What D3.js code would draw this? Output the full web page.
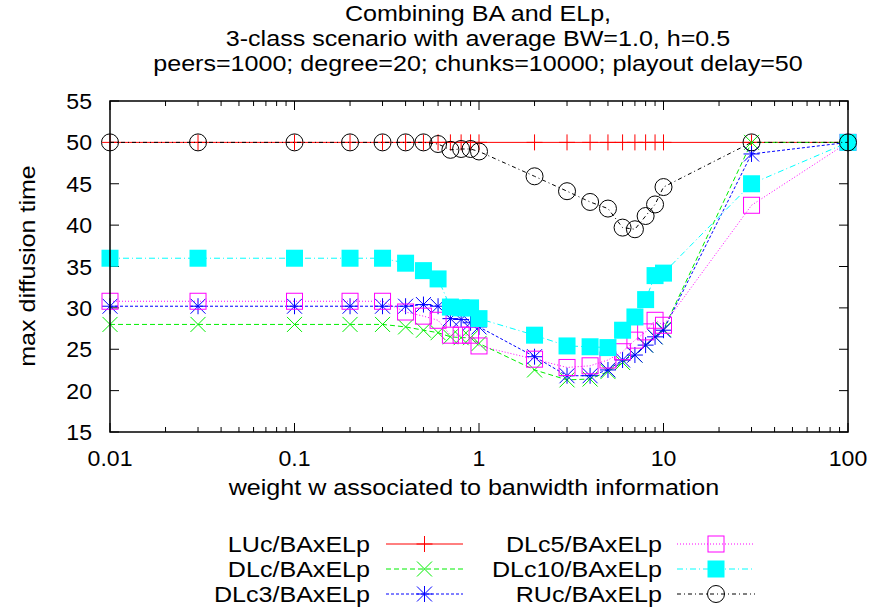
<!DOCTYPE html>
<html>
<head>
<meta charset="utf-8">
<script src="https://cdn.jsdelivr.net/npm/d3@7"></script>
<style>
  html, body { margin: 0; padding: 0; background: #fff; }
  svg text { font-family: "Liberation Sans", Arial, Helvetica, sans-serif; fill: #000; }
</style>
</head>
<body>
<svg id="chart" width="875" height="613"></svg>
<script>
// weight values on the x axis
const weights = [0.01, 0.03, 0.1, 0.2, 0.3, 0.4, 0.5, 0.6, 0.7, 0.8, 0.9, 1, 2, 3, 4, 5, 6, 7, 8, 9, 10, 30, 100];

// max diffusion time for each scheduling combination
const LUc   = [50, 50, 50, 50, 50, 50, 50, 50, 50, 50, 50, 50, 50, 50, 50, 50, 50, 50, 50, 50, 50, 50, 50];
const DLc   = [28.0, 28.0, 28.0, 28.0, 28.0, 27.7, 27.3, 27.0, 26.5, 26.4, 26.4, 25.7, 22.5, 21.3, 21.4, 22.3, 23.4, 24.3, 25.5, 26.5, 27.4, 50, 50];
const DLc3  = [30.2, 30.2, 30.2, 30.2, 30.2, 30.2, 30.4, 30.2, 28.7, 28.6, 28.2, 27.7, 24.1, 21.8, 21.8, 22.5, 23.7, 24.3, 25.5, 26.5, 27.3, 48.6, 50];
const DLc5  = [30.8, 30.8, 30.8, 30.8, 30.8, 29.5, 29.0, 28.5, 26.7, 26.7, 26.7, 25.4, 23.8, 22.8, 23.0, 23.7, 24.7, 26.1, 27.1, 28.5, 27.9, 42.4, 50];
const DLc10 = [36.0, 36.0, 36.0, 36.0, 36.0, 35.4, 34.5, 33.5, 30.1, 30.0, 30.0, 28.7, 26.7, 25.4, 25.3, 25.2, 27.3, 28.9, 31.0, 33.9, 34.2, 45.0, 50];
const RUc   = [50, 50, 50, 50, 50, 50, 50, 49.8, 49.1, 49.2, 49.2, 48.9, 45.9, 44.1, 42.8, 42.0, 39.7, 39.5, 41.1, 42.5, 44.6, 50, 50];

const xTicks = [0.01, 0.1, 1, 10, 100];
const yTicks = [15, 20, 25, 30, 35, 40, 45, 50, 55];

const titleLines = [
  "Combining BA and ELp,",
  "3-class scenario with average BW=1.0, h=0.5",
  "peers=1000; degree=20; chunks=10000; playout delay=50"
];

const series = [
  { name: "LUc/BAxELp",   values: LUc,   color: "#ff0000", dash: null,        marker: "plus"   },
  { name: "DLc/BAxELp",   values: DLc,   color: "#00ee00", dash: "5,3",       marker: "cross"  },
  { name: "DLc3/BAxELp",  values: DLc3,  color: "#0000ff", dash: "3,2",       marker: "star"   },
  { name: "DLc5/BAxELp",  values: DLc5,  color: "#ff00ff", dash: "1,2",       marker: "square" },
  { name: "DLc10/BAxELp", values: DLc10, color: "#00ffff", dash: "6,3,1,3",   marker: "fsquare"},
  { name: "RUc/BAxELp",   values: RUc,   color: "#000000", dash: "4,3,1,3",   marker: "circle" }
];

const svg = d3.select("#chart");
const L = 110, R = 848, T = 101, B = 432;
const FS = 22, SX = 1.14;

const x = d3.scaleLog().domain([0.01, 100]).range([L, R]);
const y = d3.scaleLinear().domain([15, 55]).range([B, T]);

// text helper: slightly widened sans face
function label(g, tx, ty, str, anchor, sx = SX, rot = 0) {
  return g.append("text")
    .attr("transform", `translate(${tx},${ty})` + (rot ? ` rotate(${rot})` : "") + ` scale(${sx},1)`)
    .attr("text-anchor", anchor).attr("font-size", FS).text(str);
}

// title
const titleG = svg.append("g");
titleLines.forEach((t, i) => label(titleG, 478, 21 + i * 25, t, "middle"));

// ticks (inward, mirrored on the opposite side)
const minorX = [];
for (let e = -2; e < 2; e++) for (let k = 2; k <= 9; k++) minorX.push(k * Math.pow(10, e));

const axes = svg.append("g").attr("stroke", "#000").attr("stroke-width", 1);
xTicks.forEach(v => {
  axes.append("line").attr("x1", x(v)).attr("x2", x(v)).attr("y1", B).attr("y2", B - 9);
  axes.append("line").attr("x1", x(v)).attr("x2", x(v)).attr("y1", T).attr("y2", T + 9);
});
minorX.forEach(v => {
  axes.append("line").attr("x1", x(v)).attr("x2", x(v)).attr("y1", B).attr("y2", B - 5);
  axes.append("line").attr("x1", x(v)).attr("x2", x(v)).attr("y1", T).attr("y2", T + 5);
});
yTicks.forEach(v => {
  axes.append("line").attr("x1", L).attr("x2", L + 9).attr("y1", y(v)).attr("y2", y(v));
  axes.append("line").attr("x1", R).attr("x2", R - 9).attr("y1", y(v)).attr("y2", y(v));
});

// tick labels
const tickG = svg.append("g");
xTicks.forEach(v => label(tickG, x(v), 466, d3.format("~g")(v), "middle", 1.05));
yTicks.forEach(v => label(tickG, 92, y(v) + 8, String(v), "end", 1.05));

// axis titles
label(svg, 474, 495, "weight w associated to banwidth information", "middle");
label(svg, 35, 266, "max diffusion time", "middle", SX, -90);

// marker drawing
function drawMarker(g, type, cx, cy, color) {
  const s = 8;
  if (type === "plus" || type === "star") {
    g.append("line").attr("x1", cx - s).attr("x2", cx + s).attr("y1", cy).attr("y2", cy).attr("stroke", color);
    g.append("line").attr("x1", cx).attr("x2", cx).attr("y1", cy - s).attr("y2", cy + s).attr("stroke", color);
  }
  if (type === "cross" || type === "star") {
    const c = 7.5;
    g.append("line").attr("x1", cx - c).attr("x2", cx + c).attr("y1", cy - c).attr("y2", cy + c).attr("stroke", color);
    g.append("line").attr("x1", cx - c).attr("x2", cx + c).attr("y1", cy + c).attr("y2", cy - c).attr("stroke", color);
  }
  if (type === "square") {
    g.append("rect").attr("x", cx - 8).attr("y", cy - 8).attr("width", 16).attr("height", 16)
      .attr("fill", "none").attr("stroke", color);
  }
  if (type === "fsquare") {
    g.append("rect").attr("x", cx - 8.5).attr("y", cy - 8.5).attr("width", 17).attr("height", 17)
      .attr("fill", color);
  }
  if (type === "circle") {
    g.append("circle").attr("cx", cx).attr("cy", cy).attr("r", 8.5)
      .attr("fill", "none").attr("stroke", color);
  }
}

const line = d3.line().x(d => x(d[0])).y(d => y(d[1]));
const plot = svg.append("g");
series.forEach(s => {
  const pts = weights.map((w, i) => [w, s.values[i]]);
  const g = plot.append("g");
  g.append("path").attr("d", line(pts)).attr("fill", "none")
    .attr("stroke", s.color).attr("stroke-width", 1)
    .attr("stroke-dasharray", s.dash);
  pts.forEach(p => drawMarker(g, s.marker, x(p[0]), y(p[1]), s.color));
});

// frame
svg.append("rect").attr("x", L).attr("y", T).attr("width", R - L).attr("height", B - T)
  .attr("fill", "none").attr("stroke", "#000").attr("stroke-width", 1.5);

// legend: two columns of three entries
const legend = svg.append("g");
series.forEach((s, i) => {
  const col = Math.floor(i / 3), row = i % 3;
  const textRight = col === 0 ? 370 : 662;
  const lx1 = col === 0 ? 386 : 677, lx2 = col === 0 ? 463 : 755;
  const cy = 544 + row * 25;
  label(legend, textRight, cy + 8, s.name, "end");
  legend.append("line").attr("x1", lx1).attr("x2", lx2).attr("y1", cy).attr("y2", cy)
    .attr("stroke", s.color).attr("stroke-width", 1).attr("stroke-dasharray", s.dash);
  drawMarker(legend, s.marker, (lx1 + lx2) / 2, cy, s.color);
});
</script>
</body>
</html>
